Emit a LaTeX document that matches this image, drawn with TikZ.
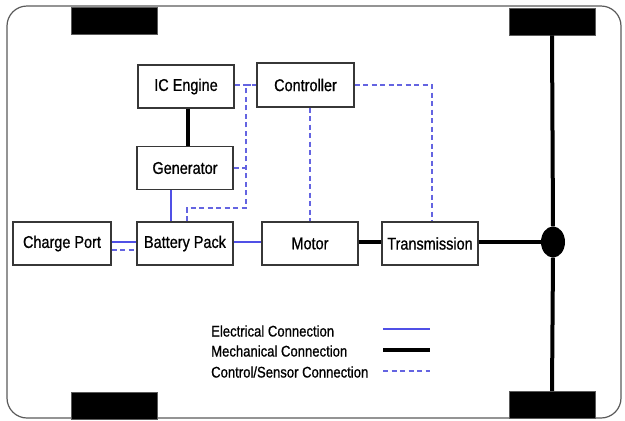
\documentclass[tikz,border=0pt]{standalone}
\usepackage{fontspec}
\newfontfamily\nar[FakeStretch=0.85,FakeBold=0.8]{Liberation Sans}
\usetikzlibrary{shapes.geometric}
\definecolor{elecblue}{RGB}{80,80,230}
\definecolor{ctrlblue}{RGB}{100,100,225}
\definecolor{boxgray}{RGB}{55,55,55}
\definecolor{framegray}{RGB}{90,90,90}
\tikzset{
  blk/.style={draw=boxgray, line width=1.4pt, fill=white, minimum width=96pt, minimum height=43pt, inner sep=0pt, font=\nar\fontsize{17}{19}\selectfont},
  wheel/.style={draw=framegray, line width=0.8pt, fill=black, minimum width=86pt, minimum height=27pt, inner sep=0pt},
  elec/.style={draw=elecblue, line width=1.2pt},
  mech/.style={draw=black, line width=4pt},
  ctrl/.style={draw=ctrlblue, line width=1.3pt, dash pattern=on 5pt off 3.5pt},
  legtxt/.style={anchor=west, inner sep=0pt, font=\nar\fontsize{15.4}{17}\selectfont}
}
\begin{document}
\begin{tikzpicture}[x=1pt,y=-1pt]
\useasboundingbox (0,0) rectangle (625,421);
\draw[framegray, line width=1.2pt, rounded corners=20pt] (7,6) rectangle (621,418);
% wheels
\node[wheel] (wTL) at (114,21) {};
\node[wheel] (wBL) at (114,406) {};
\node[wheel] (wTR) at (552,21.5) {};
\node[wheel] (wBR) at (552,405) {};
\node[ellipse, fill=black, minimum width=24pt, minimum height=31pt, inner sep=0pt] (hub) at (553,242) {};
\draw[mech] (wTR.south) -- (hub.north);
\draw[mech] (hub.south) -- (wBR.north);
% blocks
\node[blk] (ice) at (186,86.5) {IC Engine};
\node[blk] (gen) at (185,168) {Generator};
\node[blk, minimum width=97pt, minimum height=44pt] (ctl) at (305.5,85) {Controller};
\node[blk, minimum width=98pt] (chg) at (62,243.5) {Charge Port};
\node[blk] (bat) at (185,243.5) {Battery Pack};
\node[blk] (mot) at (310,243.5) {Motor};
\node[blk] (trn) at (430,243.5) {Transmission};
% helper coordinates
\coordinate (xg) at (171,0);
\coordinate (xi) at (188,0);
\coordinate (j1) at (187,208);
\coordinate (j2) at (246,208);
\coordinate (j3) at (246,85);
% mechanical
\draw[mech] (ice.south -| xi) -- (gen.north -| xi);
\draw[mech] (mot.east |- hub) -- (trn.west |- hub);
\draw[mech] (trn.east |- hub) -- (hub.west);
% electrical
\draw[elec] (gen.south -| xg) -- (bat.north -| xg);
\draw[elec] ([yshift=1.5pt]chg.east) -- ([yshift=1.5pt]bat.west);
\draw[elec] ([yshift=1.5pt]bat.east) -- ([yshift=1.5pt]mot.west);
% control
\draw[ctrl] ([yshift=-6.5pt]chg.east) -- ([yshift=-6.5pt]bat.west);
\draw[ctrl] (bat.north -| j1) -- (j1) -- (j2) -- (j3) -- (ctl.west);
\draw[ctrl] (ice.east |- ctl.west) -- (ctl.west);
\draw[ctrl] (gen.east) -- (gen.east -| j2);
\draw[ctrl] (ctl.south -| mot.north) -- (mot.north);
\draw[ctrl] (ctl.east) -| ([xshift=2pt]trn.north);
% legend
\node[legtxt] (l1) at (211,331) {Electrical Connection};
\node[legtxt] (l2) at (211,351) {Mechanical Connection};
\node[legtxt] (l3) at (211,372) {Control/Sensor Connection};
\coordinate (a1) at (383,329);
\coordinate (b1) at (430,329);
\coordinate (a2) at (383,350);
\coordinate (b2) at (430,350);
\coordinate (a3) at (383,371);
\coordinate (b3) at (430,371);
\draw[elec] (a1) -- (b1);
\draw[mech] (a2) -- (b2);
\draw[ctrl] (a3) -- (b3);
\end{tikzpicture}
\end{document}
